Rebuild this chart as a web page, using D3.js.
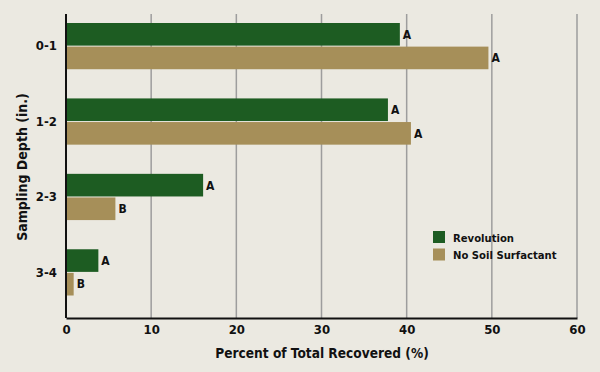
<!DOCTYPE html>
<html><head><meta charset="utf-8">
<script src="https://cdn.jsdelivr.net/npm/d3@7"></script>
<style>
html,body{margin:0;padding:0;background:#ebe9e1;}
svg{display:block;}
text{font-family:"DejaVu Sans Condensed","DejaVu Sans",sans-serif;font-stretch:condensed;font-weight:bold;fill:#111;}
</style></head>
<body>
<svg id="c" width="600" height="372"></svg>
<script>
const categories = ["0-1","1-2","2-3","3-4"];
const seriesNames = ["Revolution","No Soil Surfactant"];
const revolution = [39.2, 37.8, 16.1, 3.8];
const noSurfactant = [49.6, 40.5, 5.8, 0.9];
const revolutionLetters = ["A","A","A","A"];
const noSurfactantLetters = ["A","A","B","B"];
const xTicks = [0,10,20,30,40,50,60];
const colors = ["#1d5c22","#a68f59"];

const svg = d3.select("#c");
svg.append("rect").attr("width",600).attr("height",372).attr("fill","#ebe9e1");

const x = d3.scaleLinear().domain([0,60]).range([66,577]);
const y = d3.scaleBand().domain(categories).range([23,295.5]).paddingInner(0.387).paddingOuter(0);
const sub = d3.scaleBand().domain(seriesNames).range([0,y.bandwidth()]);
const plotTop = 14, plotBottom = 318;

// gridlines
svg.append("g").selectAll("line").data(xTicks.filter(d=>d>0)).join("line")
  .attr("x1",d=>x(d)).attr("x2",d=>x(d)).attr("y1",plotTop).attr("y2",plotBottom)
  .attr("stroke","#9d9d9d").attr("stroke-width",1.5);

const series = [revolution, noSurfactant];
const letters = [revolutionLetters, noSurfactantLetters];
series.forEach((vals,si)=>{
  const g = svg.append("g");
  g.selectAll("rect").data(vals).join("rect")
    .attr("x",x(0)).attr("y",(d,i)=>y(categories[i])+sub(seriesNames[si])+(si===1?0.5:0))
    .attr("width",d=>x(d)-x(0)).attr("height",sub.bandwidth()-0.5)
    .attr("fill",colors[si]);
  g.selectAll("text").data(vals).join("text")
    .attr("x",d=>x(d)+3).attr("y",(d,i)=>y(categories[i])+sub(seriesNames[si])+sub.bandwidth()/2+4.5)
    .attr("font-size",12).text((d,i)=>letters[si][i]);
});

// axes
const xAxis = svg.append("g").attr("transform",`translate(0,${plotBottom})`)
  .call(d3.axisBottom(x).tickValues(xTicks).tickSize(0).tickPadding(7));
xAxis.select(".domain").attr("stroke","#111").attr("stroke-width",2);
xAxis.selectAll("text").attr("font-size",13).style("font-family","'DejaVu Sans Condensed','DejaVu Sans',sans-serif").style("font-weight","bold").attr("fill","#111");

const yAxis = svg.append("g").attr("transform",`translate(${x(0)},0)`)
  .call(d3.axisLeft(y).tickSize(0).tickPadding(9));
yAxis.select(".domain").attr("d",`M0,${plotTop}V${plotBottom}`).attr("stroke","#111").attr("stroke-width",2);
yAxis.selectAll("text").attr("font-size",13).style("font-family","'DejaVu Sans Condensed','DejaVu Sans',sans-serif").style("font-weight","bold").attr("fill","#111");

// axis titles
svg.append("text").attr("x",322).attr("y",358).attr("text-anchor","middle").attr("font-size",13.6)
  .text("Percent of Total Recovered (%)");
svg.append("text").attr("transform","translate(27,167) rotate(-90)").attr("text-anchor","middle").attr("font-size",14)
  .text("Sampling Depth (in.)");

// legend
const leg = svg.append("g").attr("transform","translate(433,231)");
seriesNames.forEach((n,i)=>{
  leg.append("rect").attr("x",0).attr("y",i*17.5).attr("width",12).attr("height",12).attr("fill",colors[i]);
  leg.append("text").attr("x",20).attr("y",i*17.5+10.5).attr("font-size",11.2).text(n);
});
</script>
</body></html>
